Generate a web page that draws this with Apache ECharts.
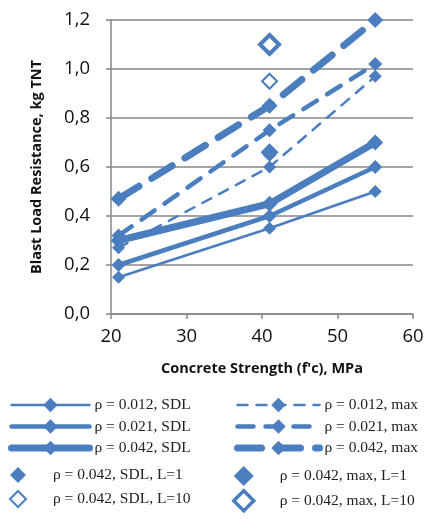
<!DOCTYPE html>
<html>
<head>
<meta charset="utf-8">
<script src="https://cdn.jsdelivr.net/npm/echarts@6/dist/echarts.min.js"></script>
<style>
html,body{margin:0;padding:0;background:#fff;}
#c{width:445px;height:519px;}
</style>
</head>
<body>
<div id="c"></div>
<script>
// ---- data ----
const fc = [21, 41, 55];
const sdl012 = [0.15, 0.35, 0.50];
const sdl021 = [0.20, 0.40, 0.60];
const sdl042 = [0.30, 0.45, 0.70];
const max012 = [0.27, 0.60, 0.97];
const max021 = [0.32, 0.75, 1.02];
const max042 = [0.47, 0.85, 1.20];
const fcSingle = [41];
const sdlL1 = [0.65];
const maxL1 = [0.66];
const sdlL10 = [0.95];
const maxL10 = [1.10];
const xTicks = [20, 30, 40, 50, 60];
const yTicks = [0, 0.2, 0.4, 0.6, 0.8, 1.0, 1.2];

const names = {
  s012: 'ρ = 0.012, SDL', s021: 'ρ = 0.021, SDL', s042: 'ρ = 0.042, SDL',
  m012: 'ρ = 0.012, max', m021: 'ρ = 0.021, max', m042: 'ρ = 0.042, max',
  sL1: 'ρ = 0.042, SDL, L=1', mL1: 'ρ = 0.042, max, L=1',
  sL10: 'ρ = 0.042, SDL, L=10', mL10: 'ρ = 0.042, max, L=10'
};

const C = '#4a7ebf';
const zip = (xs, ys) => xs.map((x, i) => [x, ys[i]]);

const W = { thin: 2.5, mid: 4.5, thick: 7 };
const D = { thin: [10, 9], mid: [16, 12], thick: [24, 15] };

function lineSeries(name, ys, width, dash, sym) {
  return {
    name, type: 'line', data: zip(fc, ys),
    symbol: 'diamond', symbolSize: sym,
    itemStyle: { color: C, opacity: 1 },
    lineStyle: { color: C, width, type: dash || 'solid', cap: 'round' },
    emphasis: { disabled: true }, animation: false
  };
}
function scatterSeries(name, ys, sym, hollow, bw) {
  return {
    name, type: 'scatter', data: zip(fcSingle, ys),
    symbol: 'diamond', symbolSize: sym,
    itemStyle: hollow ? { color: '#fff', borderColor: C, borderWidth: bw, opacity: 1 }
                      : { color: C, opacity: 1 },
    emphasis: { disabled: true }, animation: false, z: 3
  };
}

const legText = { fontFamily: 'Liberation Serif', fontSize: 15.5, color: '#222', lineHeight: 16 };
const legBase = { orient: 'vertical', textStyle: legText, selectedMode: false, padding: 0 };

const option = {
  backgroundColor: '#fff',
  animation: false,
  grid: { left: 111, right: 32, top: 20, bottom: 205 },
  xAxis: {
    type: 'value', min: xTicks[0], max: xTicks[xTicks.length - 1], interval: 10,
    axisLine: { lineStyle: { color: '#868686', width: 1.5 } },
    axisTick: { show: true, length: 5, lineStyle: { color: '#868686', width: 1.5 } },
    splitLine: { show: false },
    axisLabel: { fontFamily: 'Open Sans', fontSize: 18.5, color: '#111', margin: 13 },
    name: "Concrete Strength (f'c), MPa", nameLocation: 'middle', nameGap: 47,
    nameTextStyle: { fontFamily: 'Open Sans', fontWeight: 'bold', fontSize: 14.5, color: '#111' }
  },
  yAxis: {
    type: 'value', min: yTicks[0], max: yTicks[yTicks.length - 1], interval: 0.2,
    axisLine: { show: true, lineStyle: { color: '#868686', width: 1.5 } },
    axisTick: { show: true, length: 5, lineStyle: { color: '#868686', width: 1.5 } },
    splitLine: { show: true, lineStyle: { color: '#868686', width: 1.5 } },
    axisLabel: { fontFamily: 'Open Sans', fontSize: 18.5, color: '#111', margin: 21,
      formatter: v => v.toFixed(1).replace('.', ',') },
    name: 'Blast Load Resistance, kg TNT', nameLocation: 'middle', nameGap: 67,
    nameTextStyle: { fontFamily: 'Open Sans', fontWeight: 'bold', fontSize: 14.5, color: '#111' }
  },
  legend: [
    Object.assign({}, legBase, { left: 8, top: 397, itemWidth: 78, itemHeight: 18, itemGap: 5.5,
      data: [
        { name: names.s012, lineStyle: { width: W.thin } },
        { name: names.s021, lineStyle: { width: W.mid } },
        { name: names.s042, lineStyle: { width: W.thick } }
      ] }),
    Object.assign({}, legBase, { left: 9, top: 467, itemWidth: 16, itemHeight: 16, itemGap: 7,
      textStyle: Object.assign({}, legText, { padding: [0, 0, 0, 22] }),
      data: [
        { name: names.sL1 },
        { name: names.sL10, itemStyle: { borderWidth: 2 } }
      ] }),
    Object.assign({}, legBase, { left: 232, top: 466, itemWidth: 20, itemHeight: 20, itemGap: 3,
      textStyle: Object.assign({}, legText, { padding: [0, 0, 0, 21] }),
      data: [
        { name: names.mL1 },
        { name: names.mL10, itemStyle: { borderWidth: 3.5 } }
      ] }),
    Object.assign({}, legBase, { left: 234, top: 397, itemWidth: 82, itemHeight: 18, itemGap: 5.5,
      data: [
        { name: names.m012, lineStyle: { width: W.thin, type: D.thin } },
        { name: names.m021, lineStyle: { width: W.mid, type: D.mid } },
        { name: names.m042, lineStyle: { width: W.thick, type: D.thick } }
      ] })
  ],
  series: [
    lineSeries(names.s012, sdl012, W.thin, 'solid', 13),
    lineSeries(names.s021, sdl021, W.mid, 'solid', 14),
    lineSeries(names.s042, sdl042, W.thick, 'solid', 16),
    lineSeries(names.m012, max012, W.thin, D.thin, 13),
    lineSeries(names.m021, max021, W.mid, D.mid, 14),
    lineSeries(names.m042, max042, W.thick, D.thick, 16),
    scatterSeries(names.sL1, sdlL1, 14, false, 0),
    scatterSeries(names.mL1, maxL1, 18, false, 0),
    scatterSeries(names.sL10, sdlL10, 15, true, 2),
    scatterSeries(names.mL10, maxL10, 19, true, 4)
  ]
};

const chart = echarts.init(document.getElementById('c'), null, { renderer: 'canvas' });
chart.setOption(option);
</script>
</body>
</html>
